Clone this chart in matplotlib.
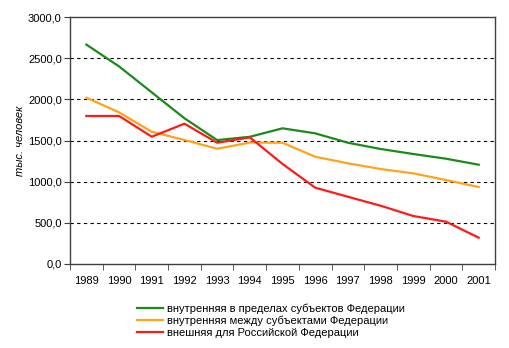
import numpy as np
import matplotlib
matplotlib.use("Agg")
from matplotlib import pyplot as plt
from matplotlib.ticker import FuncFormatter, FixedLocator

plt.rcParams['font.family'] = ['Liberation Sans', 'DejaVu Sans']

years = ['1989', '1990', '1991', '1992', '1993', '1994', '1995',
         '1996', '1997', '1998', '1999', '2000', '2001']
within_subjects = [2665, 2400, 2085, 1770, 1505, 1545, 1648, 1587, 1473, 1397, 1336, 1279, 1206]
between_subjects = [2020, 1842, 1607, 1506, 1400, 1475, 1473, 1303, 1223, 1154, 1101, 1020, 935]
external = [1798, 1798, 1546, 1704, 1473, 1538, 1215, 927, 817, 708, 583, 514, 320]

labels = ['внутренняя в пределах субъектов Федерации',
          'внутренняя между субъектами Федерации',
          'внешняя для Российской Федерации']
colors = ['#1a8a1a', '#ffa31a', '#ff1a1a']


def main():
    fig = plt.figure(figsize=(5.10, 3.48), dpi=100)
    ax = fig.add_axes([0.1373, 0.2414, 0.8333, 0.7097])
    x = np.arange(len(years))
    lines = []
    for vals, c in zip([within_subjects, between_subjects, external], colors):
        ln, = ax.plot(x, vals, color=c, lw=1.6)
        lines.append(ln)

    ax.set_xlim(-0.5, len(years) - 0.5)
    ax.set_ylim(0, 3000)
    ax.set_yticks(np.arange(0, 3001, 500))
    ax.yaxis.set_major_formatter(FuncFormatter(lambda v, p: f'{v:.1f}'.replace('.', ',')))
    ax.set_xticks(x)
    ax.set_xticklabels(years)
    ax.xaxis.set_minor_locator(FixedLocator(np.arange(-0.5, len(years), 1)))
    ax.tick_params(axis='x', which='major', length=0, pad=9, labelsize=8)
    ax.tick_params(axis='x', which='minor', length=4, direction='out', color='#404040')
    ax.tick_params(axis='y', length=4, direction='out', labelsize=8, color='#404040', pad=2)
    for v in range(500, 3000, 500):
        ax.axhline(v, color='black', lw=0.8, ls=(0, (3, 3)), zorder=0)
    for s in ax.spines.values():
        s.set_color('#404040')
        s.set_linewidth(1.0)

    ax.set_ylabel('тыс. человек', fontstyle='italic', fontsize=8, labelpad=2)

    fig.legend(lines, labels, loc='upper left', bbox_to_anchor=(0.268, 0.128),
               frameon=False, fontsize=8, handlelength=2.4, handletextpad=0.3,
               labelspacing=0.18, borderpad=0, borderaxespad=0)

    fig.savefig('out.png', dpi=100)


if __name__ == '__main__':
    main()
